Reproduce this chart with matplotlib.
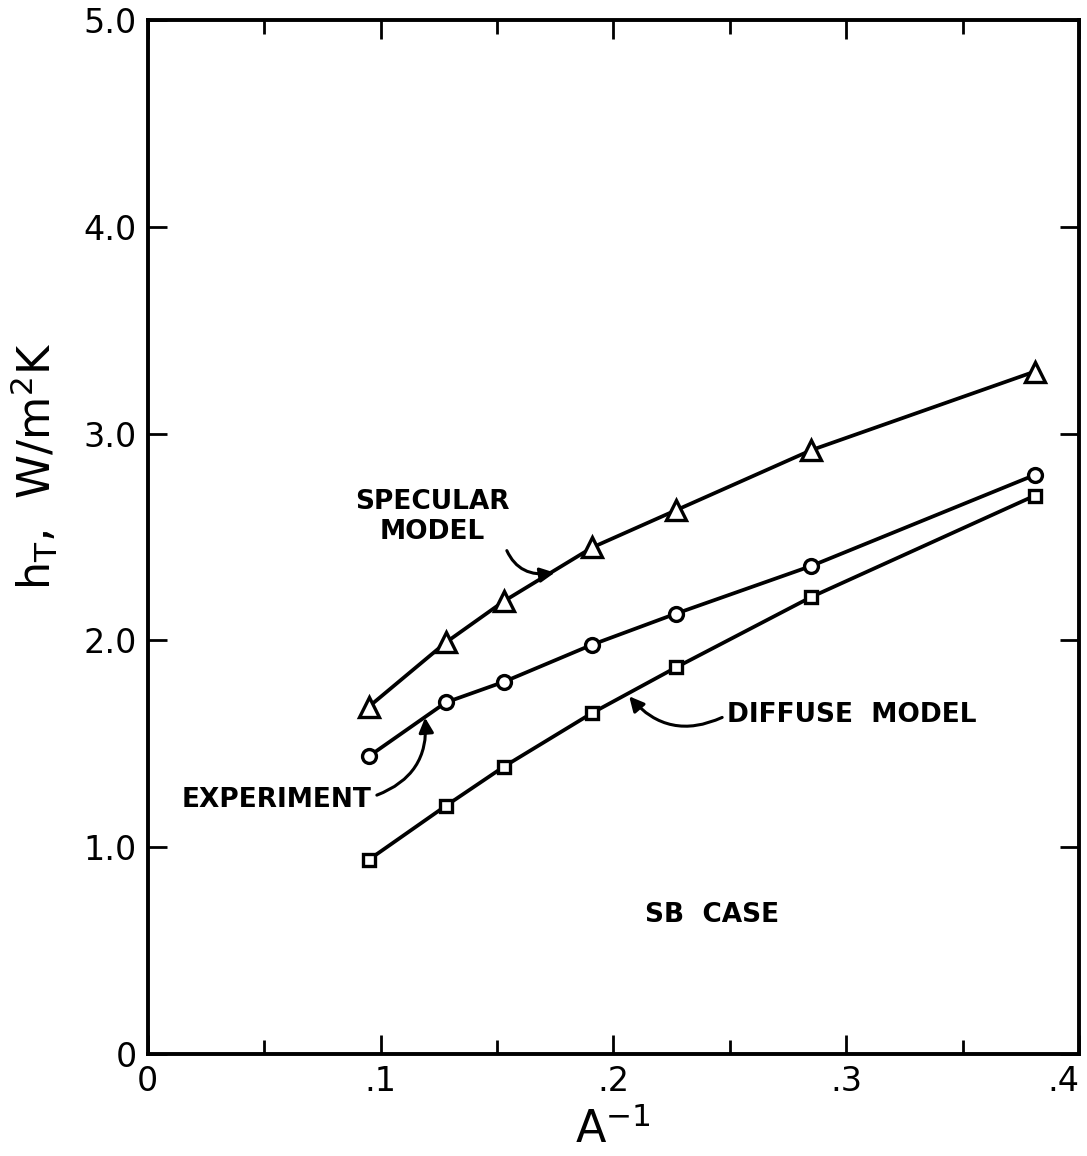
import matplotlib
matplotlib.use("Agg")
import matplotlib.pyplot as plt
from matplotlib.ticker import MultipleLocator

plt.rcParams['font.family'] = ['DejaVu Sans']

# Data (A^-1 and h_T in W/m^2K)
x_vals = [0.095, 0.128, 0.153, 0.191, 0.227, 0.285, 0.381]
specular = [1.68, 1.99, 2.19, 2.45, 2.63, 2.92, 3.30]
experiment = [1.44, 1.70, 1.80, 1.98, 2.13, 2.36, 2.80]
diffuse = [0.94, 1.20, 1.39, 1.65, 1.87, 2.21, 2.70]

x_ticks = [0, 0.1, 0.2, 0.3, 0.4]
x_tick_labels = ["0", ".1", ".2", ".3", ".4"]
y_ticks = [0, 1, 2, 3, 4, 5]
y_tick_labels = ["0", "1.0", "2.0", "3.0", "4.0", "5.0"]

fig = plt.figure(figsize=(10.87, 11.56), dpi=100)
ax = fig.add_axes([0.136, 0.0882, 0.8566, 0.8945])

lw = 2.7
ax.plot(x_vals, specular, color='black', lw=lw, marker='^', ms=15,
        mfc='white', mec='black', mew=2.4, zorder=3)
ax.plot(x_vals, experiment, color='black', lw=lw, marker='o', ms=10,
        mfc='white', mec='black', mew=2.4, zorder=3)
ax.plot(x_vals, diffuse, color='black', lw=lw, marker='s', ms=9,
        mfc='white', mec='black', mew=2.4, zorder=3)

ax.set_xlim(0, 0.4)
ax.set_ylim(0, 5.0)
ax.set_xticks(x_ticks)
ax.set_xticklabels(x_tick_labels)
ax.set_yticks(y_ticks)
ax.set_yticklabels(y_tick_labels)
ax.xaxis.set_minor_locator(MultipleLocator(0.05))
ax.get_xticklabels()[-1].set_horizontalalignment('right')

ax.tick_params(which='both', direction='in', top=True, right=True,
               labelsize=24, width=2, pad=8)
ax.tick_params(which='major', length=14)
ax.tick_params(which='minor', length=10)
for s in ax.spines.values():
    s.set_linewidth(2.8)

ax.set_xlabel(r"A$^{-1}$", fontsize=32)
ax.xaxis.set_label_coords(0.50, -0.052)
ax.set_ylabel(r"h$_{\mathrm{T}}$,  W/m$^{2}$K", fontsize=32)
ax.yaxis.set_label_coords(-0.094, 0.568)

arrow_kw = dict(arrowstyle='-|>', color='black', lw=2.2, mutation_scale=22)
fs = 19

ax.annotate("SPECULAR\nMODEL", xy=(0.176, 2.33), xytext=(0.089, 2.46),
            fontsize=fs, fontweight='bold', ha='left', va='bottom',
            multialignment='center',
            arrowprops=dict(connectionstyle="arc3,rad=0.5", shrinkA=2,
                            relpos=(0.95, 0.2), **arrow_kw))
ax.annotate("EXPERIMENT", xy=(0.119, 1.64), xytext=(0.0145, 1.23),
            fontsize=fs, fontweight='bold', ha='left', va='center',
            arrowprops=dict(connectionstyle="arc3,rad=0.4", shrinkA=2,
                            relpos=(1.0, 0.6), **arrow_kw))
ax.annotate("DIFFUSE  MODEL", xy=(0.206, 1.74), xytext=(0.249, 1.64),
            fontsize=fs, fontweight='bold', ha='left', va='center',
            arrowprops=dict(connectionstyle="arc3,rad=-0.4", shrinkA=2,
                            relpos=(0.0, 0.5), **arrow_kw))
ax.text(0.2136, 0.67, "SB  CASE", fontsize=fs, fontweight='bold',
        ha='left', va='center')

fig.savefig("out.png", dpi=100)
